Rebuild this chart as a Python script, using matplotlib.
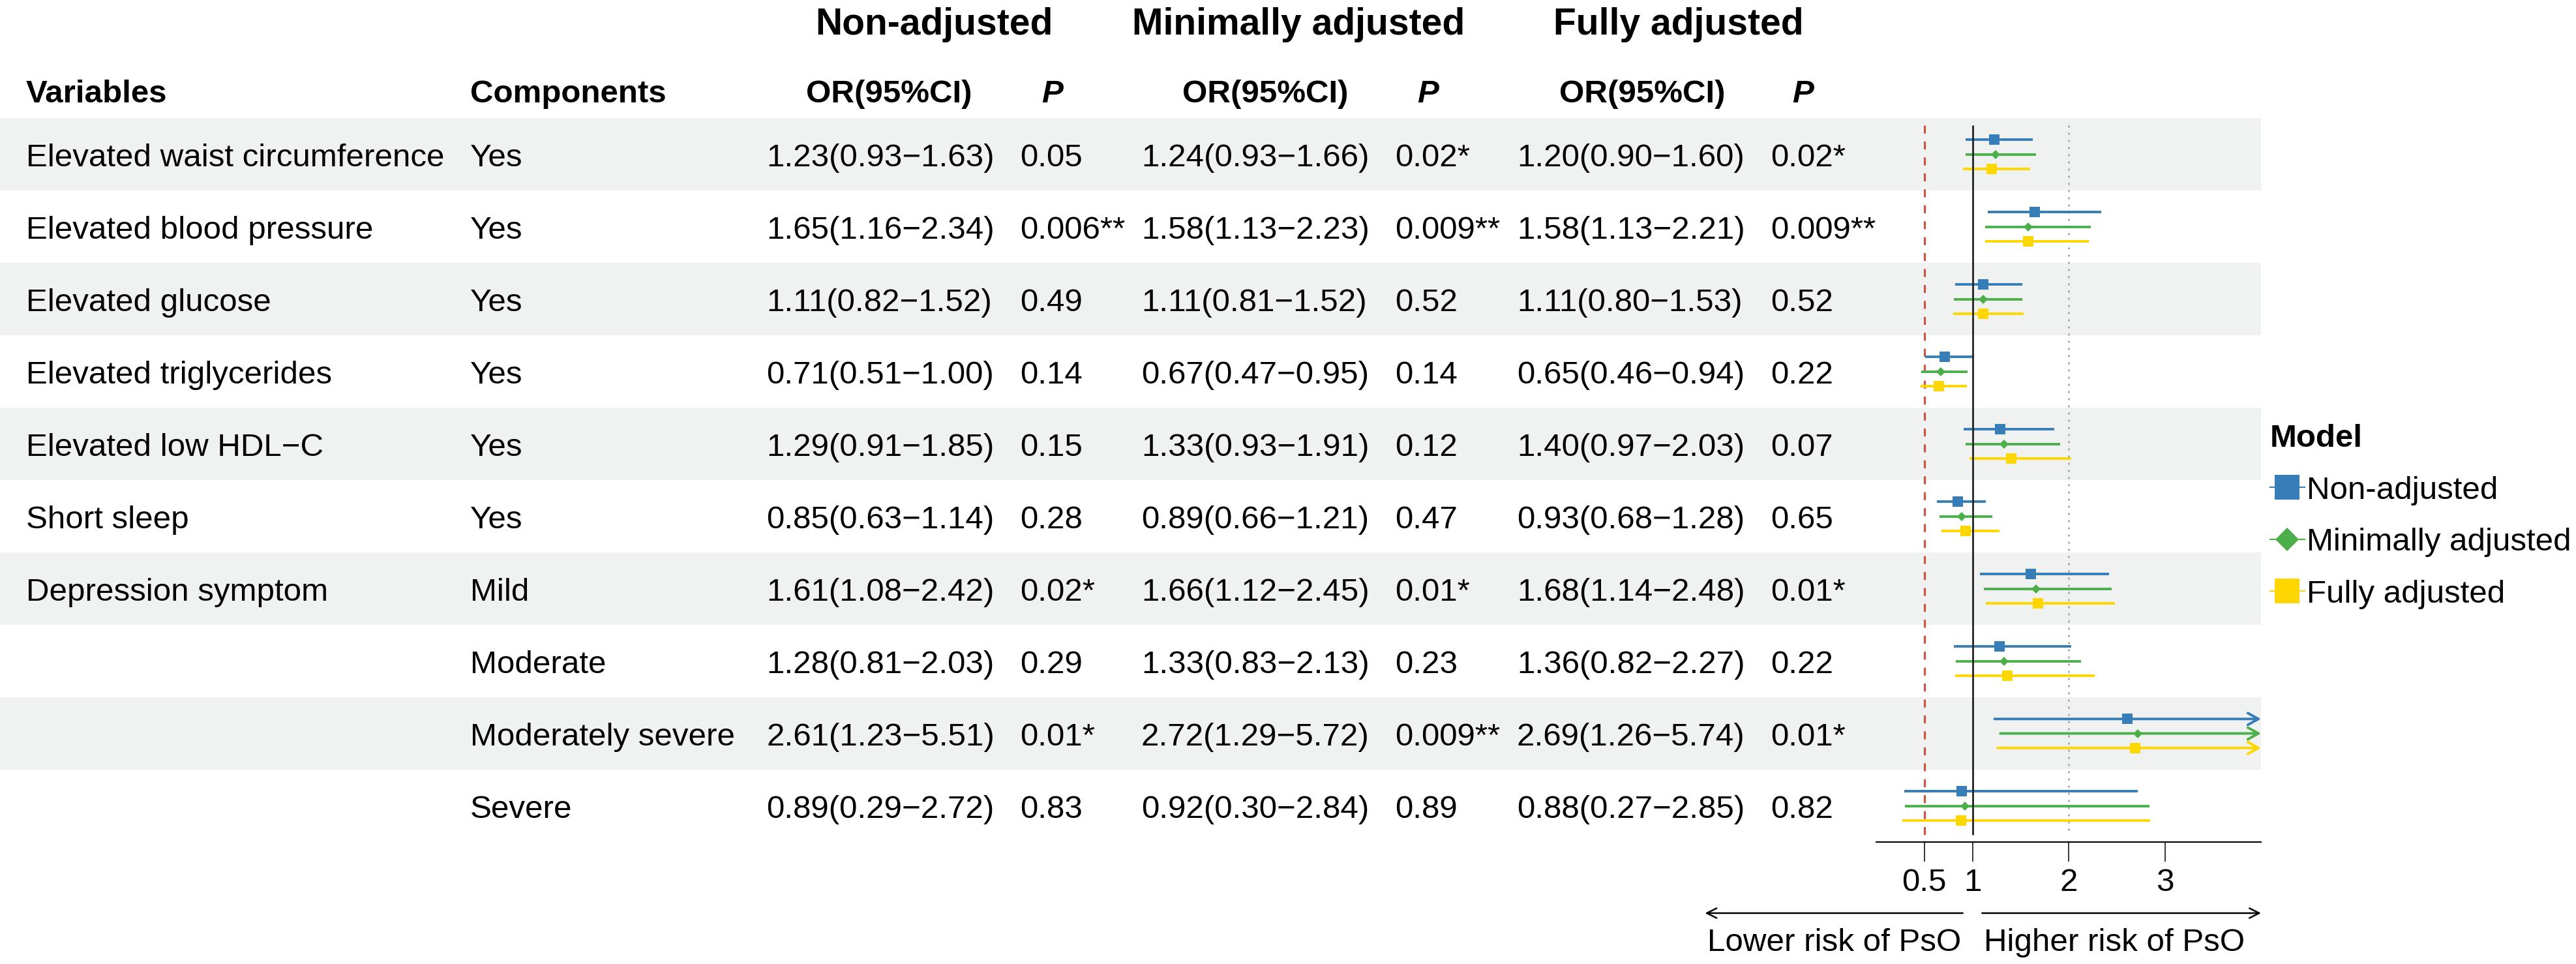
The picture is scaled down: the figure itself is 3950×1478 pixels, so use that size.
import numpy as np
import matplotlib.pyplot as plt
from matplotlib import transforms
from matplotlib.lines import Line2D

plt.rcParams["font.family"] = ["Liberation Sans", "DejaVu Sans"]

# ---------------- data ----------------
variables = [
    "Elevated waist circumference",
    "Elevated blood pressure",
    "Elevated glucose",
    "Elevated triglycerides",
    "Elevated low HDL\u2212C",
    "Short sleep",
    "Depression symptom",
    "",
    "",
    "",
]
components = ["Yes", "Yes", "Yes", "Yes", "Yes", "Yes",
              "Mild", "Moderate", "Moderately severe", "Severe"]

models = ["Non-adjusted", "Minimally adjusted", "Fully adjusted"]

or_non = [1.23, 1.65, 1.11, 0.71, 1.29, 0.85, 1.61, 1.28, 2.61, 0.89]
lo_non = [0.93, 1.16, 0.82, 0.51, 0.91, 0.63, 1.08, 0.81, 1.23, 0.29]
hi_non = [1.63, 2.34, 1.52, 1.00, 1.85, 1.14, 2.42, 2.03, 5.51, 2.72]
p_non = ["0.05", "0.006**", "0.49", "0.14", "0.15", "0.28", "0.02*", "0.29", "0.01*", "0.83"]

or_min = [1.24, 1.58, 1.11, 0.67, 1.33, 0.89, 1.66, 1.33, 2.72, 0.92]
lo_min = [0.93, 1.13, 0.81, 0.47, 0.93, 0.66, 1.12, 0.83, 1.29, 0.30]
hi_min = [1.66, 2.23, 1.52, 0.95, 1.91, 1.21, 2.45, 2.13, 5.72, 2.84]
p_min = ["0.02*", "0.009**", "0.52", "0.14", "0.12", "0.47", "0.01*", "0.23", "0.009**", "0.89"]

or_full = [1.20, 1.58, 1.11, 0.65, 1.40, 0.93, 1.68, 1.36, 2.69, 0.88]
lo_full = [0.90, 1.13, 0.80, 0.46, 0.97, 0.68, 1.14, 0.82, 1.26, 0.27]
hi_full = [1.60, 2.21, 1.53, 0.94, 2.03, 1.28, 2.48, 2.27, 5.74, 2.85]
p_full = ["0.02*", "0.009**", "0.52", "0.22", "0.07", "0.65", "0.01*", "0.22", "0.01*", "0.82"]

xticks = [0.5, 1, 2, 3]
xtick_labels = ["0.5", "1", "2", "3"]

# ---------------- style ----------------
colors = ["#377EB8", "#4DAF4A", "#FFD700"]
markers = ["s", "D", "s"]
msizes = [11, 7.4, 11]
band_color = "#EFF2F1"
fs = 35.5

W, H, DPI = 3950, 1478, 100
row_top, row_h = 181, 111
fx0, fx1 = 2877, 3467
fy1 = 1291

fig = plt.figure(figsize=(W / DPI, H / DPI), dpi=DPI)

# background / table axes in pixel units
bg = fig.add_axes([0, 0, 1, 1])
bg.set_xlim(0, W)
bg.set_ylim(H, 0)
bg.axis("off")

n = len(variables)
rows = np.arange(n)
centers = row_top + row_h * (rows + 0.5)
shade = rows % 2 == 0
bg.barh(centers[shade], fx1, height=row_h, left=0, color=band_color,
        linewidth=0, zorder=0)

# group titles
for x, t in zip([1432, 1991, 2574], models):
    bg.text(x, 53, t, ha="center", va="baseline", fontsize=41,
            fontweight="bold")

# column headers
bg.text(40, 157, "Variables", ha="left", va="baseline", fontsize=fs,
        fontweight="bold")
bg.text(721, 157, "Components", ha="left", va="baseline", fontsize=fs,
        fontweight="bold")
for x in [1363, 1940, 2518]:
    bg.text(x, 157, "OR(95%CI)", ha="center", va="baseline", fontsize=fs,
            fontweight="bold")
for x in [1614, 2190, 2765]:
    bg.text(x, 157, "P", ha="center", va="baseline", fontsize=fs,
            fontweight="bold", fontstyle="italic")

# table body
or_sets = [(or_non, lo_non, hi_non), (or_min, lo_min, hi_min),
           (or_full, lo_full, hi_full)]
p_sets = [p_non, p_min, p_full]
or_x = [1175, 1750, 2326]
p_x = [1564, 2139, 2715]

for i in range(n):
    yb = centers[i] + 18.5
    bg.text(40, yb, variables[i], ha="left", va="baseline", fontsize=fs)
    bg.text(721, yb, components[i], ha="left", va="baseline", fontsize=fs)
    for k in range(3):
        o, lo, hi = or_sets[k]
        s = f"{o[i]:.2f}({lo[i]:.2f}\u2212{hi[i]:.2f})"
        bg.text(or_x[k], yb, s, ha="left", va="baseline", fontsize=fs)
        bg.text(p_x[k], yb, p_sets[k][i], ha="left", va="baseline",
                fontsize=fs)

# ---------------- forest plot ----------------
ax = fig.add_axes([fx0 / W, 1 - fy1 / H, (fx1 - fx0) / W,
                   (fy1 - row_top) / H])
ax.set_xlim(0, 4)
ax.set_ylim(n - 0.5, -0.5)
ax.patch.set_alpha(0)
for side in ["top", "left", "right"]:
    ax.spines[side].set_visible(False)
ax.spines["bottom"].set_linewidth(1.5)
ax.set_yticks([])
ax.set_xticks(xticks)
ax.set_xticklabels(xtick_labels)
ax.tick_params(axis="x", length=21.6, width=1.1, pad=7, labelsize=fs)

ax.vlines(0.5, -0.4, n - 0.6, color="#CF5040", linestyle=(0, (4, 4)),
          linewidth=2.2, zorder=1)
ax.vlines(2, -0.4, n - 0.6, color="#A0A0A0", linestyle=(0, (1.2, 3.2)),
          linewidth=1.8, zorder=1)
ax.vlines(1, -0.4, n - 0.6, color="#222222", linewidth=2.0, zorder=4)

offsets = [-0.2, 0.0, 0.2]
for k in range(3):
    o, lo, hi = or_sets[k]
    y = rows + offsets[k]
    for i in range(n):
        if hi[i] > 4:
            ax.annotate("", xy=(4, y[i]), xytext=(lo[i], y[i]),
                        arrowprops=dict(arrowstyle="->,head_length=0.45,head_width=0.25",
                                        color=colors[k], lw=2.8,
                                        shrinkA=0, shrinkB=0,
                                        mutation_scale=26),
                        annotation_clip=False, zorder=3)
        else:
            ax.plot([lo[i], hi[i]], [y[i], y[i]], color=colors[k], lw=2.8,
                    solid_capstyle="butt", zorder=3)
    ax.plot(o, y, linestyle="none", marker=markers[k], ms=msizes[k],
            color=colors[k], markeredgewidth=0, zorder=5)

# direction arrows under the axis
trans = transforms.blended_transform_factory(ax.transData, ax.transAxes)
ya = -109 / (fy1 - row_top)
yt = -167 / (fy1 - row_top)
arrow_kw = dict(arrowstyle="->,head_length=0.4,head_width=0.2", color="black",
                lw=1.8, shrinkA=0, shrinkB=0, mutation_scale=27)
ax.annotate("", xy=(-1.78, ya), xytext=(0.9, ya), xycoords=trans,
            textcoords=trans, arrowprops=arrow_kw, annotation_clip=False)
ax.annotate("", xy=(4.0, ya), xytext=(1.1, ya), xycoords=trans,
            textcoords=trans, arrowprops=arrow_kw, annotation_clip=False)
ax.text(0.88, yt, "Lower risk of PsO", transform=trans, ha="right",
        va="baseline", fontsize=fs)
ax.text(1.12, yt, "Higher risk of PsO", transform=trans, ha="left",
        va="baseline", fontsize=fs)

# legend
handles = [Line2D([0], [0], color=colors[k], marker=markers[k], lw=1.5,
                  ms=[27, 18, 27][k], markeredgewidth=0) for k in range(3)]
fig.legend(handles, models, title="Model", loc="upper left",
           bbox_to_anchor=(3481 / W, 1 - 650 / H), frameon=False,
           fontsize=fs, title_fontproperties={"weight": "bold", "size": fs},
           handlelength=1.07, handletextpad=0.07, labelspacing=0.7,
           borderpad=0, borderaxespad=0, alignment="left")

fig.savefig("out.png", dpi=DPI)
